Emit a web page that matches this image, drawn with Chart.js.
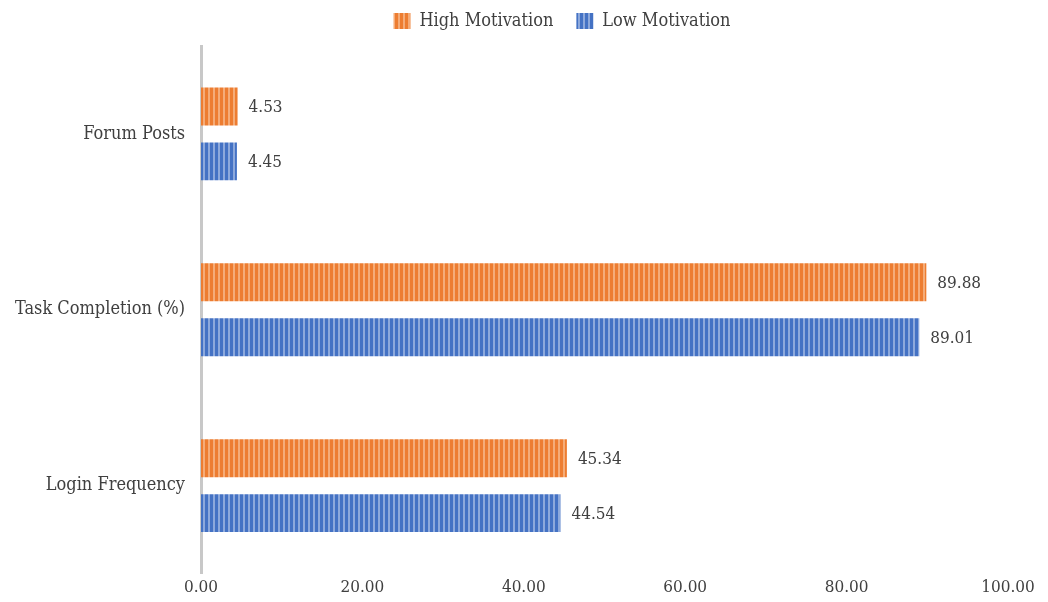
<!DOCTYPE html>
<html>
<head>
<meta charset="utf-8">
<script src="https://cdn.jsdelivr.net/npm/chart.js@4.4.1/dist/chart.umd.min.js"></script>
<style>
  html, body { margin: 0; padding: 0; background: #fff; }
  #wrap { width: 1048px; height: 602px; position: relative; }
</style>
</head>
<body>
<div id="wrap"><canvas id="chart"></canvas></div>
<script>
const categories = ['Forum Posts', 'Task Completion (%)', 'Login Frequency'];
const highMotivation = [4.53, 89.88, 45.34];
const lowMotivation = [4.45, 89.01, 44.54];
const xTicks = [0, 20, 40, 60, 80, 100];

const fontFamily = '"DejaVu Serif Condensed", "Liberation Serif", serif';

function stripes(dark, light) {
  const c = document.createElement('canvas');
  c.width = 5;
  c.height = 4;
  const g = c.getContext('2d');
  g.fillStyle = dark;
  g.fillRect(0, 0, 5, 4);
  g.fillStyle = light;
  g.fillRect(3, 0, 2, 4);
  return g.createPattern(c, 'repeat');
}

const orangeFill = stripes('#ED7D31', '#F5AC78');
const blueFill = stripes('#4472C4', '#8DA9DC');

// extra room under the legend, and nudge it right like the original
const legendTweak = {
  id: 'legendTweak',
  beforeInit(chart) {
    const fit = chart.legend.fit;
    chart.legend.fit = function () {
      fit.call(this);
      this.height += 6;
    };
  },
  afterLayout(chart) {
    chart.legend.left += 58;
    chart.legend.right += 58;
  }
};

const valueLabels = {
  id: 'valueLabels',
  afterDatasetsDraw(chart) {
    const ctx = chart.ctx;
    ctx.save();
    ctx.font = '17px ' + fontFamily;
    ctx.fillStyle = '#404040';
    ctx.textAlign = 'left';
    ctx.textBaseline = 'middle';
    chart.data.datasets.forEach(function (ds, i) {
      chart.getDatasetMeta(i).data.forEach(function (bar, j) {
        ctx.fillText(ds.data[j].toFixed(2), bar.x + 11, bar.y + 1);
      });
    });
    ctx.restore();
  }
};

new Chart(document.getElementById('chart'), {
  type: 'bar',
  data: {
    labels: categories,
    datasets: [
      { label: 'High Motivation', data: highMotivation, backgroundColor: orangeFill, borderWidth: 0 },
      { label: 'Low Motivation', data: lowMotivation, backgroundColor: blueFill, borderWidth: 0 }
    ]
  },
  options: {
    indexAxis: 'y',
    responsive: true,
    maintainAspectRatio: false,
    animation: false,
    categoryPercentage: 0.625,
    barPercentage: 0.69,
    layout: { padding: { left: 0, right: 40, top: -11, bottom: 8 } },
    plugins: {
      legend: {
        position: 'top',
        labels: {
          font: { family: fontFamily, size: 18 },
          color: '#404040',
          boxWidth: 17,
          boxHeight: 16,
          padding: 23
        }
      },
      tooltip: { enabled: false }
    },
    scales: {
      x: {
        min: 0,
        max: 100,
        afterBuildTicks: function (scale) {
          scale.ticks = xTicks.map(function (v) { return { value: v }; });
        },
        grid: { display: false },
        border: { display: false },
        ticks: {
          font: { family: fontFamily, size: 17 },
          color: '#404040',
          padding: -4,
          callback: function (v) { return Number(v).toFixed(2); }
        }
      },
      y: {
        grid: { display: false },
        border: { display: true, color: '#C8C8C8', width: 3 },
        ticks: {
          font: { family: fontFamily, size: 18 },
          color: '#404040',
          padding: 8
        },
        afterFit: function (scale) { scale.width = 201; }
      }
    }
  },
  plugins: [legendTweak, valueLabels]
});
</script>
</body>
</html>
